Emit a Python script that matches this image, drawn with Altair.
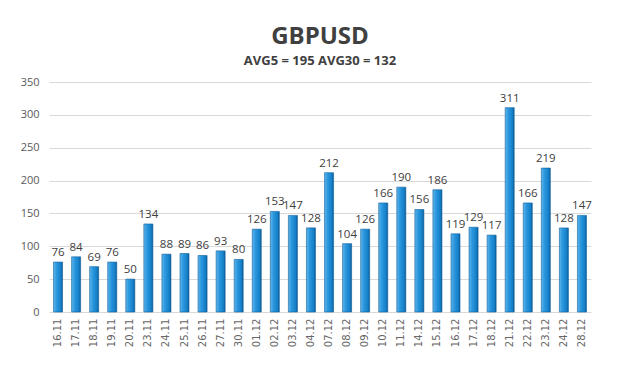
import altair as alt
import pandas as pd

dates = ["16.11", "17.11", "18.11", "19.11", "20.11", "23.11", "24.11", "25.11", "26.11", "27.11",
         "30.11", "01.12", "02.12", "03.12", "04.12", "07.12", "08.12", "09.12", "10.12", "11.12",
         "14.12", "15.12", "16.12", "17.12", "18.12", "21.12", "22.12", "23.12", "24.12", "28.12"]
values = [76, 84, 69, 76, 50, 134, 88, 89, 86, 93,
          80, 126, 153, 147, 128, 212, 104, 126, 166, 190,
          156, 186, 119, 129, 117, 311, 166, 219, 128, 147]
y_ticks = [0, 50, 100, 150, 200, 250, 300, 350]

df = pd.DataFrame({"date": dates, "value": values})

W, H = 542, 230

x_enc = alt.X("date:N", sort=dates,
              scale=alt.Scale(paddingInner=0.5, paddingOuter=0.25),
              axis=alt.Axis(title=None, labelAngle=270, labelFontSize=10, labelColor="#666666",
                            labelFont="DejaVu Sans", ticks=False, domain=False, grid=False,
                            labelPadding=6, labelBaseline="middle", labelAlign="right"))
y_enc = alt.Y("value:Q", scale=alt.Scale(domain=[0, 350], nice=False),
              axis=alt.Axis(title=None, values=y_ticks, labelFontSize=11, labelColor="#595959",
                            labelFont="Open Sans", ticks=False, domain=False, labelPadding=10,
                            gridColor="#d9d9d9", gridWidth=1.2))

grad = alt.Gradient(gradient="linear", x1=0, x2=1, y1=0, y2=0,
                    stops=[alt.GradientStop(color="#62b6ea", offset=0),
                           alt.GradientStop(color="#2a97de", offset=0.35),
                           alt.GradientStop(color="#1580c8", offset=0.8),
                           alt.GradientStop(color="#0c5a98", offset=1)])

bars = alt.Chart(df).mark_bar(color=grad, stroke="#0f5f9c", strokeWidth=0.6).encode(x=x_enc, y=y_enc)

labels = alt.Chart(df).mark_text(dy=-9, fontSize=11.5, color="#404040", font="Open Sans").encode(
    x=x_enc, y=y_enc, text="value:Q")

chart = alt.layer(bars, labels).properties(
    width=W, height=H,
    title=alt.Title(text="GBPUSD", subtitle="AVG5 = 195 AVG30 = 132", anchor="middle",
                    font="Open Sans", fontSize=24, fontWeight="bold", color="#404040",
                    subtitleFont="Open Sans", subtitleFontSize=13, subtitleFontWeight="bold",
                    subtitleColor="#404040", subtitlePadding=6, offset=8),
    autosize=alt.AutoSizeParams(type="none"),
    padding={"left": 41, "top": 74, "right": 21, "bottom": 66},
).configure(background="white").configure_view(stroke="transparent", strokeWidth=0)

chart.save("out.html", embed_options={"renderer": "svg", "actions": False})
